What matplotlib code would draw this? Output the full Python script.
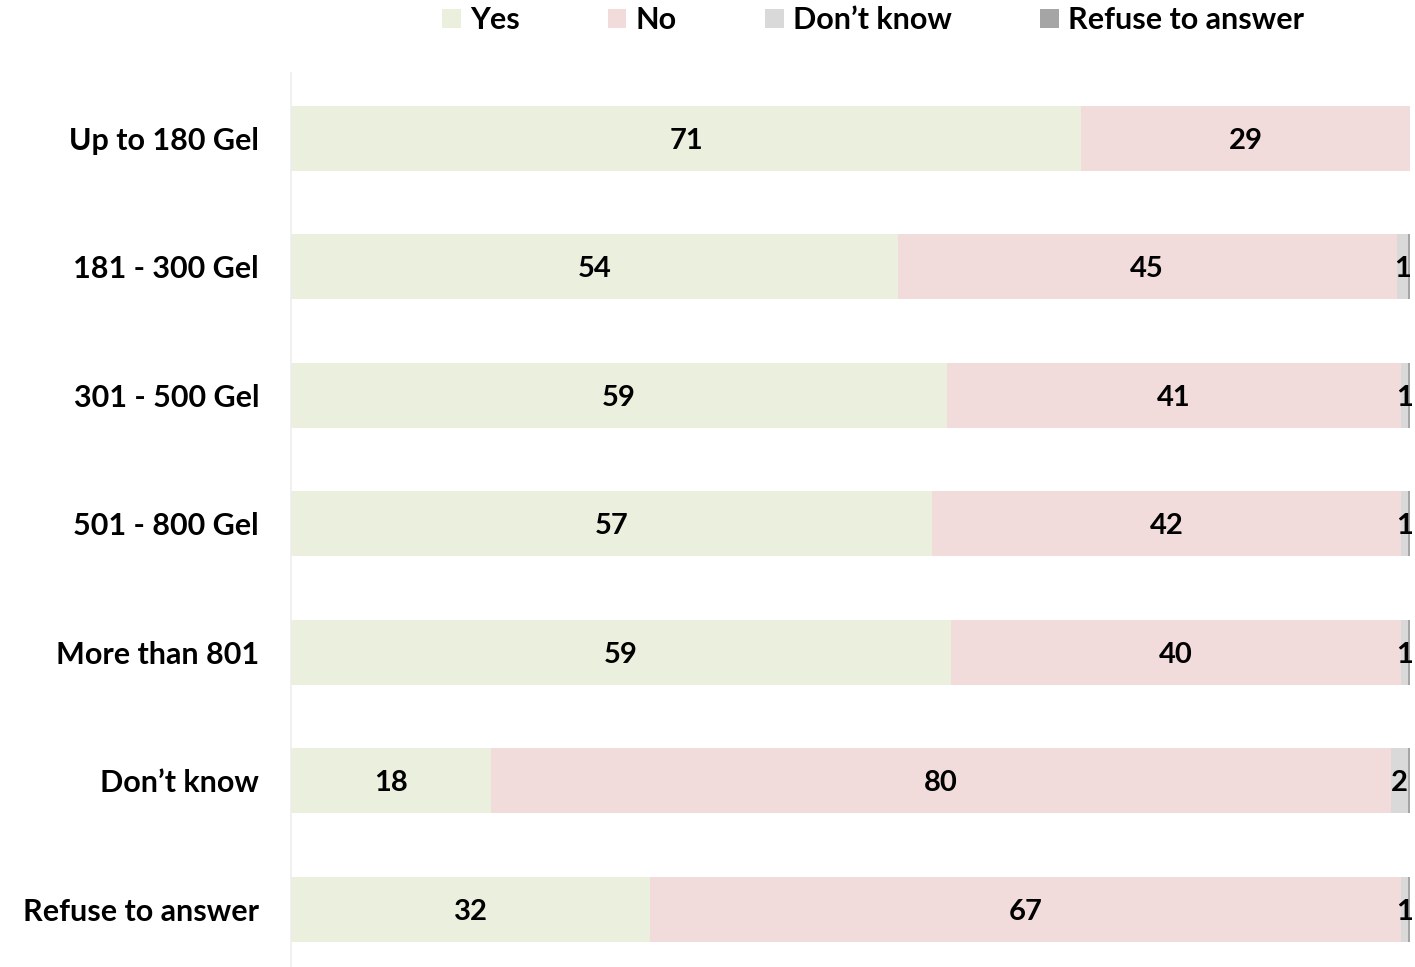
import matplotlib
matplotlib.use("Agg")
import matplotlib.pyplot as plt
from matplotlib.patches import Patch
import numpy as np

plt.rcParams['font.family'] = ['Lato', 'DejaVu Sans']

categories = ['Up to 180 Gel', '181 - 300 Gel', '301 - 500 Gel', '501 - 800 Gel',
              'More than 801', 'Don\u2019t know', 'Refuse to answer']
yes = [70.6, 54.2, 58.6, 57.3, 59.0, 17.9, 32.1]
no = [29.4, 44.6, 40.6, 41.9, 40.2, 80.4, 67.1]
dont_know = [0.0, 1.0, 0.6, 0.6, 0.6, 1.5, 0.6]
refuse = [0.0, 0.2, 0.2, 0.2, 0.2, 0.2, 0.2]

series = [('Yes', yes, '#EBEFDE'), ('No', no, '#F2DCDB'),
          ('Don\u2019t know', dont_know, '#D9D9D9'), ('Refuse to answer', refuse, '#A5A5A5')]

FS = 22

fig = plt.figure(figsize=(14.15, 9.67), dpi=100)
ax = fig.add_axes([0.2057, 0.0, 0.7908, 0.9245])

y = np.arange(len(categories))
left = np.zeros(len(categories))
for name, vals, col in series:
    vals = np.array(vals)
    ax.barh(y, vals, left=left, height=0.506, color=col, label=name)
    for i, v in enumerate(vals):
        if round(v) >= 1:
            ax.text(left[i] + v / 2, y[i], f'{round(v):d}', ha='center', va='center_baseline',
                    fontsize=FS - 1, fontweight='bold', color='black')
    left += vals

ax.set_xlim(0, 100)
ax.set_ylim(6.45, -0.51)
ax.set_yticks(y)
ax.set_yticklabels(categories, fontsize=FS, fontweight='bold')
ax.tick_params(axis='y', length=0, pad=23)
ax.set_xticks([])
for s in ['top', 'right', 'bottom']:
    ax.spines[s].set_visible(False)
ax.spines['left'].set_color('#EDEDED')
ax.spines['left'].set_linewidth(1.2)

handles = [Patch(facecolor=c, label=n) for n, _, c in series]
fig.legend(handles=handles, loc='upper center', bbox_to_anchor=(0.617, 1.022), ncol=4,
           frameon=False, handlelength=0.6, handleheight=0.6, handletextpad=0.3,
           columnspacing=2.9, prop={'size': FS, 'weight': 'bold'})

fig.savefig('out.png', dpi=100)
